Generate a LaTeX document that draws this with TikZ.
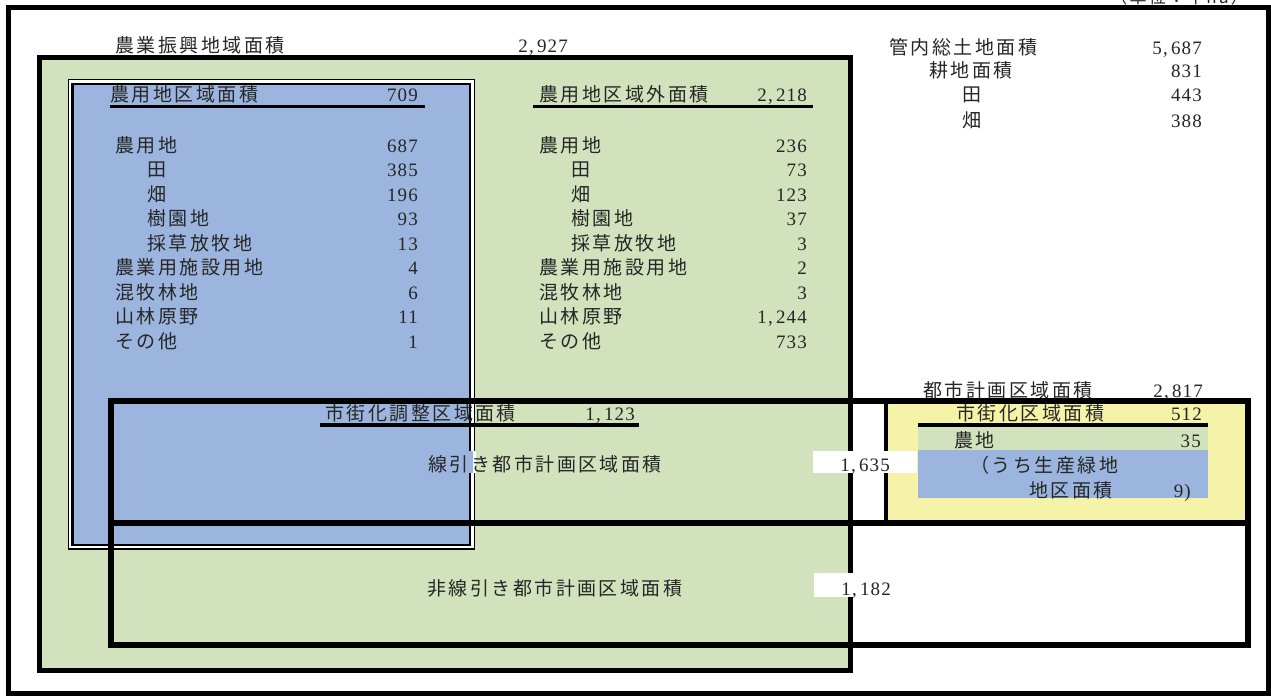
\documentclass[tikz,border=0pt]{standalone}
\usepackage{fontspec}
\setmainfont{Liberation Serif}
\newfontfamily\jpf[LetterSpace=13]{Noto Sans CJK JP}
\newfontfamily\numf[LetterSpace=6]{Liberation Serif}
\definecolor{agreen}{HTML}{D2E2BD}
\definecolor{ablue}{HTML}{9BB5DE}
\definecolor{ayellow}{HTML}{F4F3A8}
\begin{document}
\begin{tikzpicture}[x=1pt,y=-1pt,
  lab/.style={anchor=base west,inner sep=0pt,text=black!85,font=\jpf\fontsize{19}{19}\selectfont},
  num/.style={anchor=base east,inner sep=0pt,text=black!85,font=\numf\fontsize{19}{19}\selectfont},
  frame/.style={line width=4.5pt},
  cityline/.style={line width=6pt},
  uline/.style={line width=3pt}]
\useasboundingbox (0,0) rectangle (1271,696);
% outer frame
\draw[frame,fill=white] (8.5,7.5) rectangle (1268.5,693.5);
% 農業振興地域
\draw[line width=5pt,fill=agreen] (39.5,57.5) rectangle (850.5,670);
% 農用地区域 (double border)
\draw[line width=1.2pt,fill=white] (68.5,79.5) rectangle (474.8,549);
\draw[line width=2.5pt,fill=ablue] (72.5,84) rectangle (470,545);
% 市街化区域
\fill[ayellow] (886,400) rectangle (1247,522);
\fill[agreen] (918,427) rectangle (1208,450);
\fill[ablue] (918,450) rectangle (1208,498);
% 都市計画区域 boxes
\draw[cityline] (110.5,400.5) rectangle (1247.5,645);
\draw[cityline] (110.5,522.5) -- (1247.5,522.5);
\draw[line width=4pt] (886,400.5) -- (886,522.5);
% gap in the double border behind the label
\fill[ablue] (467,451) rectangle (472.5,473);
\fill[white] (472.5,451) rectangle (475.5,473);
\fill[agreen] (475.5,451) rectangle (478,473);
% underlines
\draw[uline] (110,106) -- (425,106);
\draw[uline] (533,106.5) -- (813,106.5);
\draw[line width=4.5pt] (320,425) -- (639,425);
\draw[line width=4.5pt] (918,425) -- (1208,425);
% white label boxes
\fill[white] (813,451) rectangle (917,473);
\fill[white] (814,573) rectangle (856,597);

% unit
\node[num,font=\jpf\fontsize{17}{17}\selectfont] (unit) at (1248,3) {（単位：千ha）};
% top texts
\node[lab] (nsT) at (115,52) {農業振興地域面積};
\node[num] (nsV) at (568,52) {2,\,927};
\node[lab] (kanT) at (889,54) {管内総土地面積};
\node[num] (kanV) at (1202,54) {5,\,687};
\node[lab] (kouT) at (929,77) {耕地面積};
\node[num] (kouV) at (1202,77) {831};
\node[lab] (taT) at (962,101) {田};
\node[num] (taV) at (1202,101) {443};
\node[lab] (haT) at (962,127) {畑};
\node[num] (haV) at (1202,127) {388};

% 農用地区域
\node[lab] (aT) at (110,101) {農用地区域面積};
\node[num] (aV) at (418,101) {709};
\node[lab] (a1) at (115,152) {農用地};        \node[num] (a1v) at (418,152) {687};
\node[lab] (a2) at (147,176.5) {田};            \node[num] (a2v) at (418,176.5) {385};
\node[lab] (a3) at (147,201) {畑};            \node[num] (a3v) at (418,201) {196};
\node[lab] (a4) at (147,225.5) {樹園地};        \node[num] (a4v) at (418,225.5) {93};
\node[lab] (a5) at (147,250) {採草放牧地};    \node[num] (a5v) at (418,250) {13};
\node[lab] (a6) at (115,274.5) {農業用施設用地};\node[num] (a6v) at (418,274.5) {4};
\node[lab] (a7) at (115,299) {混牧林地};      \node[num] (a7v) at (418,299) {6};
\node[lab] (a8) at (115,323.5) {山林原野};      \node[num] (a8v) at (418,323.5) {11};
\node[lab] (a9) at (115,348) {その他};        \node[num] (a9v) at (418,348) {1};

% 農用地区域外
\node[lab] (bT) at (539,101) {農用地区域外面積};
\node[num] (bV) at (807,101) {2,\,218};
\node[lab] (b1) at (539,152) {農用地};        \node[num] (b1v) at (807,152) {236};
\node[lab] (b2) at (571,176.5) {田};            \node[num] (b2v) at (807,176.5) {73};
\node[lab] (b3) at (571,201) {畑};            \node[num] (b3v) at (807,201) {123};
\node[lab] (b4) at (571,225.5) {樹園地};        \node[num] (b4v) at (807,225.5) {37};
\node[lab] (b5) at (571,250) {採草放牧地};    \node[num] (b5v) at (807,250) {3};
\node[lab] (b6) at (539,274.5) {農業用施設用地};\node[num] (b6v) at (807,274.5) {2};
\node[lab] (b7) at (539,299) {混牧林地};      \node[num] (b7v) at (807,299) {3};
\node[lab] (b8) at (539,323.5) {山林原野};      \node[num] (b8v) at (807,323.5) {1,\,244};
\node[lab] (b9) at (539,348) {その他};        \node[num] (b9v) at (807,348) {733};

% 都市計画区域
\node[lab] (tkT) at (923,397) {都市計画区域面積};
\node[num] (tkV) at (1203,397) {2,\,817};
\node[lab] (chT) at (325,420) {市街化調整区域面積};
\node[num] (chV) at (635,420) {1,\,123};
\node[lab] (sbT) at (428,471) {線引き都市計画区域面積};
\node[num] (sbV) at (890,471.5) {1,\,635};
\node[lab] (skT) at (956,420) {市街化区域面積};
\node[num] (skV) at (1202,420) {512};
\node[lab] (nT) at (954,447) {農地};
\node[num] (nV) at (1201,447) {35};
\node[lab] (ssT) at (970,472) {（うち生産緑地};
\node[lab] (ss2T) at (1029,497) {地区面積};
\node[num] (ssV) at (1191,497) {9)};
\node[lab] (hsT) at (427,595) {非線引き都市計画区域面積};
\node[num] (hsV) at (891,595) {1,\,182};
\end{tikzpicture}
\end{document}
